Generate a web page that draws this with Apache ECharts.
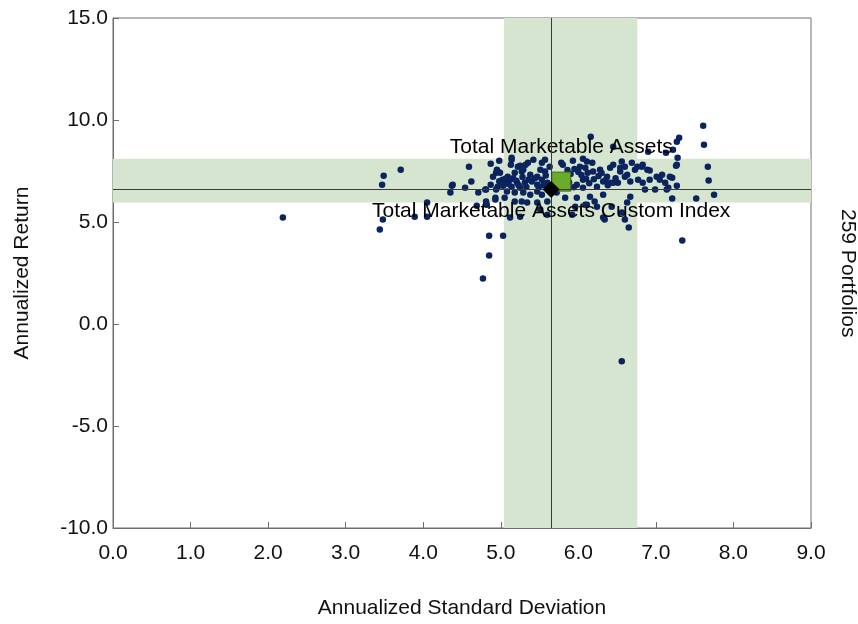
<!DOCTYPE html>
<html>
<head>
<meta charset="utf-8">
<script src="https://cdn.jsdelivr.net/npm/echarts@6/dist/echarts.min.js"></script>
<style>
html,body{margin:0;padding:0;background:#fff;}
#chart{width:858px;height:624px;}
</style>
</head>
<body>
<div id="chart"></div>
<script>
// Portfolio universe (annualized std dev, annualized return)
var portfolioStdDev = [
  2.19,3.44,3.48,3.49,3.47,3.71,4.05,4.05,3.89,4.35,4.37,4.54,4.62,4.59,4.71,4.81,4.81,4.87,4.98,4.87,
  4.94,4.93,4.94,4.96,4.85,5.03,4.85,4.77,4.69,
  5.14,5.13,5.25,5.35,5.53,5.57,5.51,4.95,4.99,4.90,5.02,5.09,5.18,5.27,5.38,5.47,5.57,5.63,4.38,4.80,
  4.96,5.05,5.12,5.14,5.21,5.25,5.31,5.40,5.47,5.53,5.60,5.08,5.18,5.29,5.38,5.47,5.53,5.05,4.93,4.82,
  5.18,5.27,5.34,5.47,5.60,5.12,5.25,5.51,5.60,
  6.16,5.78,5.93,6.06,6.18,6.09,6.12,6.19,6.28,6.37,6.45,6.56,6.60,6.69,6.73,6.82,6.89,6.54,6.63,6.41,
  6.32,6.24,6.06,5.98,6.06,6.51,6.67,6.77,6.83,6.92,7.01,7.08,7.12,7.18,7.27,7.14,6.99,6.86,5.83,5.72,
  5.98,6.15,6.32,6.21,6.09,5.96,6.67,6.63,6.43,5.92,6.32,6.56,6.65,6.60,
  7.61,7.62,7.27,7.30,7.22,7.28,7.26,7.67,7.68,7.75,7.52,7.21,7.27,7.16,7.05,7.21,6.90,7.13,6.92,6.83,
  6.76,6.45,7.34,6.34,6.24,6.11,6.45,6.60,6.54,6.41,6.56,
  5.14,5.22,5.29,5.32,5.42,5.80,6.02,6.11,
  5.00,5.03,4.98,5.06,5.10,5.16,5.20,5.23,5.28,5.33,5.36,5.44,5.49,5.55,5.58,5.86,5.90,5.95,6.00,6.04,
  6.10,6.14,6.20,6.26,6.30,6.35,6.38,6.48,5.88,5.94
];
var portfolioReturn = [
  5.22,4.63,5.12,7.27,6.83,7.56,5.95,5.26,5.26,6.44,6.78,6.68,6.98,7.71,6.44,6.59,6.00,7.86,8.00,6.83,
  6.59,6.10,7.42,7.47,4.33,4.33,3.36,2.23,5.80,
  8.05,7.81,7.76,7.91,7.91,8.05,7.56,7.56,7.42,7.22,7.07,7.22,7.42,7.47,7.32,7.22,7.47,7.71,6.83,6.59,
  6.73,6.93,7.07,6.73,6.93,6.68,6.93,6.98,6.83,7.07,6.93,6.49,6.44,6.44,6.34,6.49,6.34,6.19,6.19,5.85,
  6.00,6.00,5.95,5.95,6.00,5.22,5.26,5.61,5.36,
  9.18,7.91,8.00,8.10,7.91,7.66,7.42,7.47,7.56,7.22,7.81,7.96,7.71,7.91,7.56,7.71,7.56,7.47,7.32,6.93,
  6.98,6.73,7.07,6.83,6.68,6.93,6.98,7.07,6.93,7.07,7.22,7.32,6.93,7.22,7.81,6.59,6.59,6.59,6.19,6.44,
  6.19,6.24,6.34,6.00,5.85,5.75,6.24,5.95,5.75,5.36,5.22,5.46,4.73,5.12,
  9.72,8.79,8.93,9.13,8.54,8.15,7.76,7.71,7.03,6.34,6.15,6.15,6.78,6.68,7.07,7.17,8.44,8.40,7.52,7.81,
  7.71,8.69,4.09,5.12,5.75,5.85,6.93,7.22,7.66,7.66,-1.83,
  8.15,7.71,7.56,7.81,8.05,7.81,7.71,7.96,
  6.90,6.78,7.00,7.12,6.86,7.15,7.02,6.80,7.20,6.72,7.08,7.15,6.72,6.80,7.28,7.55,7.35,7.60,7.45,7.30,
  7.12,6.90,7.10,7.25,7.40,7.05,6.80,7.15,6.95,6.70
];

var benchName = 'Total Marketable Assets';
var benchPoint = [5.78, 6.98];
var indexName = 'Total Marketable Assets Custom Index';
var indexPoint = [5.65, 6.59];

// Shaded ranges and crosshair
var stdDevBand = [5.04, 6.76];
var returnBand = [5.95, 8.10];
var crossX = 5.65;
var crossY = 6.59;

var xTicks = [0, 9, 1];   // min, max, interval
var yTicks = [-10, 15, 5];
var xTitle = 'Annualized Standard Deviation';
var yTitle = 'Annualized Return';
var rightNote = '259 Portfolios';

var pts = portfolioStdDev.map(function (x, i) { return [x, portfolioReturn[i]]; });

var FONT = '"Liberation Sans", Arial, sans-serif';
var FS = 21;
var chart = echarts.init(document.getElementById('chart'), null, {renderer: 'canvas'});

chart.setOption({
  animation: false,
  backgroundColor: '#ffffff',
  grid: {left: 113, right: 47, top: 18, bottom: 95, show: true, borderColor: '#6e6e6e', borderWidth: 1, backgroundColor: 'transparent'},
  xAxis: {
    type: 'value', min: xTicks[0], max: xTicks[1], interval: xTicks[2],
    name: xTitle, nameLocation: 'middle', nameGap: 70,
    nameTextStyle: {fontFamily: FONT, fontSize: FS, color: '#111'},
    axisLine: {show: true, onZero: false, lineStyle: {color: '#6e6e6e', width: 1}},
    axisTick: {show: true, inside: true, length: 6, lineStyle: {color: '#6e6e6e'}},
    axisLabel: {fontFamily: FONT, fontSize: FS, color: '#111', margin: 15, formatter: function (v) { return v.toFixed(1); }},
    splitLine: {show: false}
  },
  yAxis: {
    type: 'value', min: yTicks[0], max: yTicks[1], interval: yTicks[2],
    name: yTitle, nameLocation: 'middle', nameGap: 80, nameRotate: 90,
    nameTextStyle: {fontFamily: FONT, fontSize: FS, color: '#111'},
    axisLine: {show: true, onZero: false, lineStyle: {color: '#6e6e6e', width: 1}},
    axisTick: {show: true, inside: true, length: 6, lineStyle: {color: '#6e6e6e'}},
    axisLabel: {fontFamily: FONT, fontSize: FS, color: '#111', margin: 5, formatter: function (v) { return v.toFixed(1); }},
    splitLine: {show: false}
  },
  graphic: [{
    type: 'text', left: 837, top: 209, rotation: -Math.PI / 2,
    style: {text: rightNote, font: '21px ' + FONT, fill: '#111'}
  }],
  series: [
    {
      type: 'scatter', data: [], z: 1, silent: true,
      markArea: {
        silent: true,
        itemStyle: {color: '#d5e5cf', opacity: 1},
        data: [
          [{xAxis: stdDevBand[0]}, {xAxis: stdDevBand[1]}],
          [{yAxis: returnBand[0]}, {yAxis: returnBand[1]}]
        ]
      },
      markLine: {
        silent: true, symbol: 'none', label: {show: false},
        lineStyle: {color: '#3a3a3a', width: 1, type: 'solid'},
        data: [{xAxis: crossX}, {yAxis: crossY}]
      }
    },
    {
      type: 'scatter', data: pts, z: 2, symbol: 'circle', symbolSize: 6.5,
      itemStyle: {color: '#0a245f', opacity: 1}
    },
    {
      type: 'scatter', z: 4, data: [benchPoint], symbol: 'rect', symbolSize: 19,
      itemStyle: {color: '#6aac2a', borderColor: '#3f6a19', borderWidth: 1, opacity: 1},
      label: {show: true, position: 'top', distance: 14, formatter: benchName,
        fontFamily: FONT, fontSize: FS, color: '#000'}
    },
    {
      type: 'scatter', z: 5, data: [indexPoint], symbol: 'diamond', symbolSize: [17, 17],
      itemStyle: {color: '#000000', opacity: 1},
      label: {show: true, position: 'bottom', distance: 3, formatter: indexName,
        fontFamily: FONT, fontSize: FS, color: '#000'}
    }
  ]
});
</script>
</body>
</html>
